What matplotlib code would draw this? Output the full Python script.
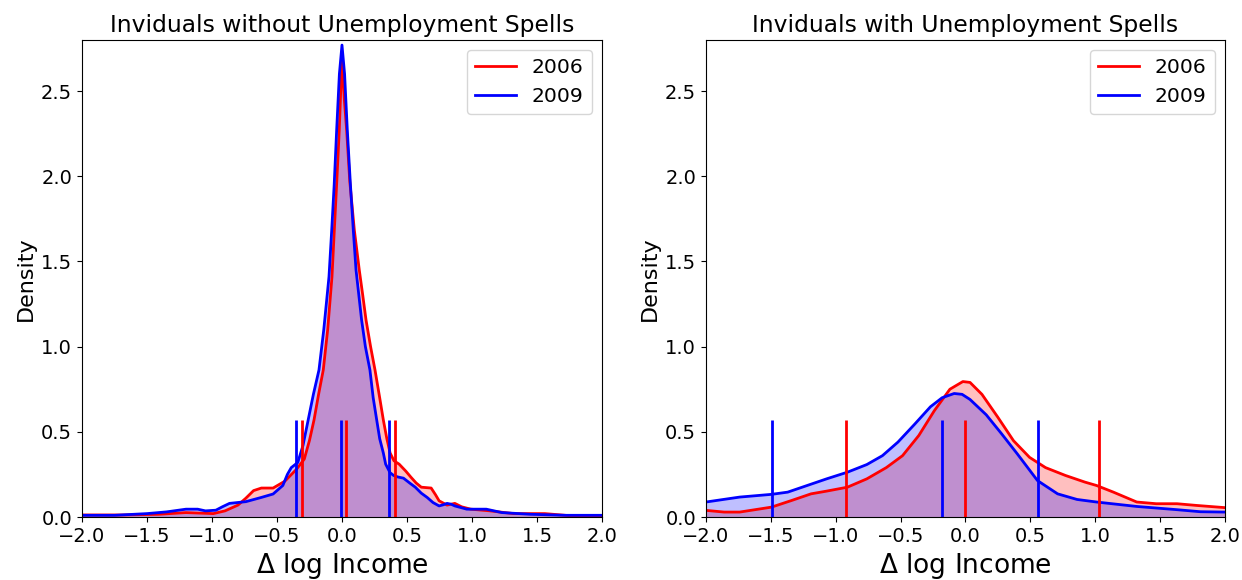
import numpy as np
import matplotlib.pyplot as plt

# Densities (x = delta log income)
left_2006_x = [-2.0, -1.7, -1.41, -1.2, -0.99, -0.9, -0.8, -0.74, -0.68, -0.62, -0.53, -0.44, -0.35, -0.29,
               -0.25, -0.215, -0.18, -0.144, -0.11, -0.077, -0.059, -0.04, -0.021, 0.0, 0.018, 0.036, 0.06,
               0.095, 0.133, 0.16, 0.185, 0.22, 0.254, 0.29, 0.318, 0.345, 0.37, 0.40, 0.44, 0.49, 0.53,
               0.57, 0.61, 0.686, 0.72, 0.747, 0.808, 0.868, 0.92, 0.99, 1.14, 1.32, 1.56, 1.78, 2.0]
left_2006_y = [0.012, 0.012, 0.016, 0.026, 0.02, 0.036, 0.07, 0.11, 0.155, 0.17, 0.17, 0.21, 0.28, 0.34,
               0.45, 0.57, 0.72, 0.863, 1.10, 1.41, 1.684, 1.97, 2.27, 2.70, 2.45, 2.27, 1.97,
               1.684, 1.45, 1.30, 1.156, 1.0, 0.863, 0.70, 0.57, 0.46, 0.376, 0.33, 0.31, 0.27, 0.234,
               0.20, 0.175, 0.17, 0.13, 0.095, 0.07, 0.08, 0.06, 0.046, 0.036, 0.02, 0.02, 0.006, 0.006]

left_2009_x = [-2.0, -1.75, -1.5, -1.35, -1.2, -1.11, -1.05, -0.97, -0.92, -0.865, -0.74, -0.62, -0.53,
               -0.455, -0.42, -0.39, -0.34, -0.30, -0.26, -0.22, -0.177, -0.14, -0.10, -0.079, -0.06,
               -0.041, -0.02, 0.0, 0.02, 0.041, 0.065, 0.087, 0.108, 0.151, 0.18, 0.215, 0.24, 0.267,
               0.29, 0.318, 0.336, 0.37, 0.397, 0.43, 0.473, 0.52, 0.564, 0.61, 0.655, 0.70, 0.747,
               0.78, 0.808, 0.84, 0.868, 0.96, 1.11, 1.23, 1.45, 1.72, 2.0]
left_2009_y = [0.01, 0.01, 0.02, 0.03, 0.046, 0.046, 0.036, 0.04, 0.06, 0.08, 0.09, 0.115, 0.135,
               0.185, 0.25, 0.29, 0.32, 0.42, 0.57, 0.72, 0.863, 1.10, 1.41, 1.684, 1.95,
               2.27, 2.60, 2.77, 2.60, 2.27, 1.95, 1.684, 1.45, 1.156, 1.0, 0.863, 0.70, 0.57,
               0.46, 0.376, 0.31, 0.26, 0.244, 0.235, 0.228, 0.20, 0.175, 0.14, 0.115, 0.085, 0.065,
               0.072, 0.08, 0.075, 0.065, 0.046, 0.046, 0.026, 0.016, 0.01, 0.01]

right_2006_x = [-2.0, -1.86, -1.74, -1.495, -1.34, -1.19, -1.07, -0.91, -0.76, -0.61, -0.485, -0.36,
                -0.24, -0.12, -0.02, 0.035, 0.127, 0.25, 0.37, 0.494, 0.617, 0.77, 0.92, 1.01, 1.14,
                1.32, 1.47, 1.63, 1.78, 2.0]
right_2006_y = [0.039, 0.029, 0.029, 0.058, 0.097, 0.136, 0.152, 0.175, 0.224, 0.29, 0.36, 0.478,
                0.624, 0.75, 0.795, 0.79, 0.72, 0.585, 0.448, 0.35, 0.29, 0.244, 0.205, 0.185, 0.146,
                0.088, 0.078, 0.078, 0.068, 0.055]

right_2009_x = [-2.0, -1.74, -1.495, -1.37, -1.22, -1.07, -0.91, -0.76, -0.64, -0.52, -0.39, -0.27,
                -0.18, -0.087, -0.026, 0.035, 0.16, 0.28, 0.40, 0.555, 0.71, 0.86, 1.01, 1.32, 1.63,
                1.81, 2.0]
right_2009_y = [0.088, 0.117, 0.133, 0.146, 0.185, 0.224, 0.263, 0.308, 0.36, 0.44, 0.546, 0.647,
                0.70, 0.725, 0.72, 0.69, 0.60, 0.487, 0.37, 0.214, 0.136, 0.103, 0.088, 0.062, 0.043,
                0.031, 0.029]

# quantile markers (10th, 50th, 90th percentiles)
left_q_2006 = [-0.31, 0.03, 0.41]
left_q_2009 = [-0.35, -0.01, 0.36]
right_q_2006 = [-0.92, 0.0, 1.03]
right_q_2009 = [-1.49, -0.18, 0.56]
q_height = 0.57

titles = ["Inviduals without Unemployment Spells", "Inviduals with Unemployment Spells"]


def draw_panel(ax, x06, y06, x09, y09, q06, q09, title):
    ax.fill_between(x06, y06, color="red", alpha=0.25, linewidth=0)
    ax.plot(x06, y06, color="red", lw=2, label="2006")
    ax.fill_between(x09, y09, color="blue", alpha=0.25, linewidth=0)
    ax.plot(x09, y09, color="blue", lw=2, label="2009")
    ax.vlines(q06, 0, q_height, color="red", lw=2)
    ax.vlines(q09, 0, q_height, color="blue", lw=2)
    ax.set_xlim(-2, 2)
    ax.set_ylim(0, 2.8)
    ax.set_title(title, fontsize=16.8)
    ax.set_xlabel(r"$\Delta$ log Income", fontsize=19)
    ax.set_ylabel("Density", fontsize=16)
    ax.tick_params(labelsize=14)
    ax.legend(fontsize=14.6, loc="upper right")


fig = plt.figure(figsize=(12.42, 5.8), dpi=100)
ax1 = fig.add_axes([0.066, 0.1086, 0.4187, 0.8225])
ax2 = fig.add_axes([0.5684, 0.1086, 0.4179, 0.8225])

draw_panel(ax1, left_2006_x, left_2006_y, left_2009_x, left_2009_y, left_q_2006, left_q_2009, titles[0])
draw_panel(ax2, right_2006_x, right_2006_y, right_2009_x, right_2009_y, right_q_2006, right_q_2009, titles[1])

fig.savefig("out.png", dpi=100)
